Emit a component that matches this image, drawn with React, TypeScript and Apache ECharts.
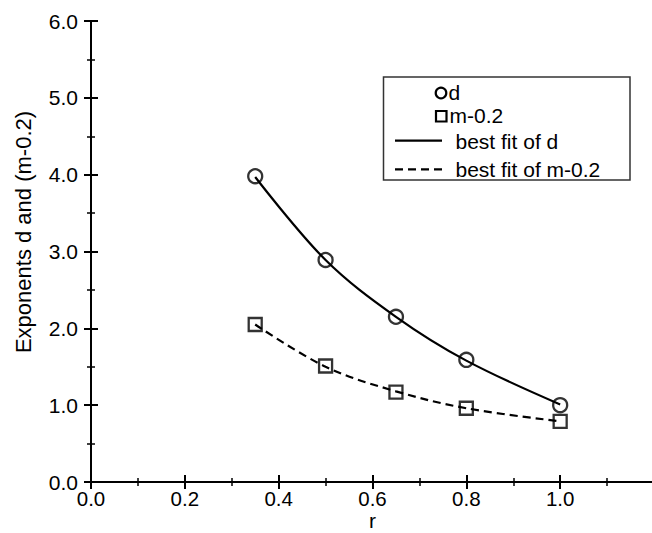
import React, { useEffect, useRef } from "react";
import * as echarts from "echarts";

// ---- data ----
const rValues = [0.35, 0.5, 0.65, 0.8, 1.0];
const dValues = [3.98, 2.89, 2.15, 1.59, 1.0];
const mValues = [2.05, 1.51, 1.17, 0.96, 0.79];
const dFitValues = [3.97, 2.89, 2.15, 1.58, 1.01];
const mFitValues = [2.05, 1.5, 1.18, 0.96, 0.79];
const seriesNames = ["d", "m-0.2", "best fit of d", "best fit of m-0.2"];
const xTitle = "r";
const yTitle = "Exponents d and (m-0.2)";
const xMin = 0;
const xMax = 1.2;
const xStep = 0.2;
const yMin = 0;
const yMax = 6;
const yStep = 1;

const FONT = "'Liberation Sans', Arial, Helvetica, sans-serif";

const pairs = (xs: number[], ys: number[]) => xs.map((x, i) => [x, ys[i]]);

const mkTick = () => ({
  show: true,
  inside: true,
  length: 7,
  lineStyle: { color: "#000", width: 2 },
});
const mkMinor = () => ({
  show: true,
  splitNumber: 2,
  length: 4,
  lineStyle: { color: "#000", width: 1.5 },
});
const mkLine = () => ({ show: true, lineStyle: { color: "#000", width: 2 } });

export default function App() {
  const ref = useRef<HTMLDivElement>(null);

  useEffect(() => {
    if (!ref.current) return;
    const chart = echarts.init(ref.current, undefined, { renderer: "svg" });

    const fmt = (v: number) => v.toFixed(1);

    const option: any = {
      animation: false,
      backgroundColor: "#fff",
      grid: {
        left: 91,
        right: -2,
        top: 21,
        bottom: 51,
        containLabel: false,
        outerBoundsMode: "none",
      },
      xAxis: [
        {
          type: "value",
          position: "bottom",
          min: xMin,
          max: xMax,
          interval: xStep,
          axisLine: mkLine(),
          axisTick: mkTick(),
          minorTick: mkMinor(),
          splitLine: { show: false },
          minorSplitLine: { show: false },
          axisLabel: {
            formatter: fmt,
            showMaxLabel: false,
            margin: 7,
            lineHeight: 18,
            color: "#000",
            fontSize: 20.5,
            fontFamily: FONT,
          },
          name: xTitle,
          nameLocation: "middle",
          nameGap: 29.5,
          nameMoveOverlap: false,
          nameTextStyle: {
            color: "#000",
            fontSize: 21,
            lineHeight: 18,
            fontFamily: FONT,
          },
        },
        {
          type: "value",
          position: "top",
          min: xMin,
          max: xMax,
          interval: xStep,
          axisLine: mkLine(),
          axisTick: mkTick(),
          minorTick: mkMinor(),
          splitLine: { show: false },
          minorSplitLine: { show: false },
          axisLabel: { show: false },
        },
      ],
      yAxis: [
        {
          type: "value",
          position: "left",
          min: yMin,
          max: yMax,
          interval: yStep,
          axisLine: mkLine(),
          axisTick: mkTick(),
          minorTick: mkMinor(),
          splitLine: { show: false },
          minorSplitLine: { show: false },
          axisLabel: {
            formatter: fmt,
            margin: 13,
            color: "#000",
            fontSize: 21,
            fontFamily: FONT,
          },
        },
        {
          type: "value",
          position: "right",
          min: yMin,
          max: yMax,
          interval: yStep,
          axisLine: mkLine(),
          axisTick: mkTick(),
          minorTick: mkMinor(),
          splitLine: { show: false },
          minorSplitLine: { show: false },
          axisLabel: { show: false },
        },
      ],
      series: [
        {
          name: seriesNames[2],
          type: "line",
          data: pairs(rValues, dFitValues),
          smooth: 0.35,
          symbol: "none",
          lineStyle: { color: "#000", width: 2.2 },
          z: 2,
        },
        {
          name: seriesNames[3],
          type: "line",
          data: pairs(rValues, mFitValues),
          smooth: 0.35,
          symbol: "none",
          lineStyle: { color: "#000", width: 2.2, type: [8, 5] },
          z: 2,
        },
        {
          name: seriesNames[0],
          type: "scatter",
          data: pairs(rValues, dValues),
          symbol: "circle",
          symbolSize: 14,
          itemStyle: { color: "transparent", borderColor: "#000", borderWidth: 2.3 },
          z: 3,
        },
        {
          name: seriesNames[1],
          type: "scatter",
          data: pairs(rValues, mValues),
          symbol: "rect",
          symbolSize: 13,
          itemStyle: { color: "transparent", borderColor: "#000", borderWidth: 2.3 },
          z: 3,
        },
      ],
      graphic: [
        {
          type: "text",
          x: 23,
          y: 232,
          rotation: Math.PI / 2,
          style: {
            text: yTitle,
            fontSize: 22,
            fontFamily: FONT,
            fill: "#000",
            align: "center",
            verticalAlign: "middle",
          },
        },
        {
          type: "group",
          children: [
            {
              type: "rect",
              shape: { x: 383.5, y: 77, width: 246.5, height: 103 },
              style: { fill: "#fff", stroke: "#333", lineWidth: 1.5 },
            },
            {
              type: "circle",
              shape: { cx: 441, cy: 93, r: 5.3 },
              style: { fill: "none", stroke: "#000", lineWidth: 2.2 },
            },
            {
              type: "text",
              x: 448.5,
              y: 92.5,
              style: {
                text: seriesNames[0],
                fontSize: 21,
                fontFamily: FONT,
                fill: "#000",
                align: "left",
                verticalAlign: "middle",
              },
            },
            {
              type: "rect",
              shape: { x: 436, y: 111, width: 10.5, height: 10.5 },
              style: { fill: "none", stroke: "#000", lineWidth: 2.2 },
            },
            {
              type: "text",
              x: 449.5,
              y: 115.7,
              style: {
                text: seriesNames[1],
                fontSize: 21,
                fontFamily: FONT,
                fill: "#000",
                align: "left",
                verticalAlign: "middle",
              },
            },
            {
              type: "line",
              shape: { x1: 395, y1: 140.7, x2: 442, y2: 140.7 },
              style: { stroke: "#000", lineWidth: 2.2 },
            },
            {
              type: "text",
              x: 455.5,
              y: 141,
              style: {
                text: seriesNames[2],
                fontSize: 21,
                fontFamily: FONT,
                fill: "#000",
                align: "left",
                verticalAlign: "middle",
              },
            },
            {
              type: "line",
              shape: { x1: 395, y1: 169.3, x2: 442, y2: 169.3 },
              style: { stroke: "#000", lineWidth: 2.2, lineDash: [8, 5] },
            },
            {
              type: "text",
              x: 455.5,
              y: 169.5,
              style: {
                text: seriesNames[3],
                fontSize: 21,
                fontFamily: FONT,
                fill: "#000",
                align: "left",
                verticalAlign: "middle",
              },
            },
          ],
        },
      ],
    };

    chart.setOption(option);
    return () => chart.dispose();
  }, []);

  return (
    <div
      ref={ref}
      style={{ position: "absolute", left: 0, top: 0, width: 652, height: 533 }}
    />
  );
}
